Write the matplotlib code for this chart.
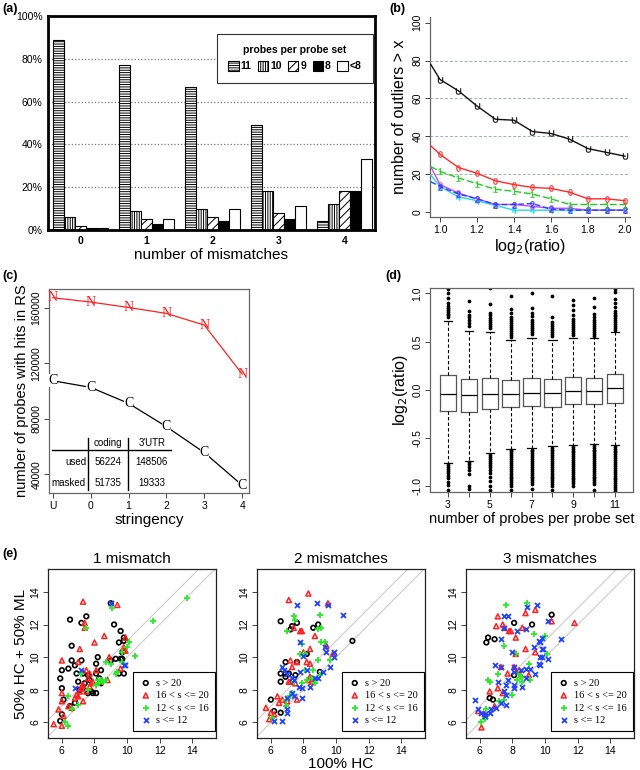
import numpy as np
import matplotlib.pyplot as plt
from matplotlib.patches import Patch

plt.rcParams['font.family'] = ['Liberation Sans', 'DejaVu Sans']
plt.rcParams['axes.unicode_minus'] = False
plt.rcParams['hatch.linewidth'] = 0.7

# ---- (a) share of probe sets by probes per set ----
mismatch_groups = ['0', '1', '2', '3', '4']
probe_classes = ['11', '10', '9', '8', '<8']
pct_11 = [89, 77, 67, 49, 4]
pct_10 = [6, 9, 10, 18, 12]
pct_9 = [2, 5, 6, 8, 18]
pct_8 = [1, 3, 4, 5, 18]
pct_lt8 = [1, 5, 10, 11, 33]

# ---- (b) outliers vs log2 ratio ----
ratio_x = [0.95, 1.0, 1.1, 1.2, 1.3, 1.4, 1.5, 1.6, 1.7, 1.8, 1.9, 2.0]
outl_U = [78, 70, 64, 56, 49, 48.5, 42.5, 41.5, 38.5, 33.5, 31.5, 29.5]
outl_0 = [35, 30.5, 23.5, 20.5, 16.5, 14.5, 13, 12.5, 10.5, 7, 7, 6]
outl_1 = [24, 21.5, 18, 15, 12, 11, 9.5, 7, 4, 4, 4, 4]
outl_2 = [16, 13.5, 9.5, 7, 4, 4, 4.5, 1.5, 1, 1, 1, 1]
outl_3 = [24, 14.5, 10, 7, 4, 4, 3, 2, 2, 1, 1, 1]
outl_4 = [19.5, 13.5, 8, 6, 3.5, 1, 1, 1, 1, 1, 1, 1]

# ---- (c) probes with hits ----
stringency = ['U', '0', '1', '2', '3', '4']
hits_N = [167200, 164100, 160200, 155900, 147500, 112200]
hits_C = [107400, 102600, 91100, 74300, 55600, 32100]
tab_cols = ['coding', "3'UTR"]
tab_rows = ['used', 'masked']
tab_used = [56224, 148506]
tab_masked = [51735, 19333]

# ---- (d) boxplot stats ----
box_labels = ['3', '4', '5', '6', '7', '8', '9', '10', '11']
box_med = [-0.04, -0.05, -0.04, -0.04, -0.03, -0.03, -0.01, -0.01, 0.02]
box_q1 = [-0.22, -0.235, -0.195, -0.18, -0.165, -0.175, -0.15, -0.15, -0.14]
box_q3 = [0.15, 0.11, 0.125, 0.1, 0.125, 0.11, 0.13, 0.125, 0.16]
box_lo = [-0.76, -0.74, -0.66, -0.61, -0.6, -0.585, -0.575, -0.565, -0.57]
box_hi = [0.71, 0.61, 0.6, 0.52, 0.54, 0.52, 0.54, 0.54, 0.6]
fl_3 = [0.75, 0.77, 0.79, 0.81, 0.83, 0.85, 0.87, 0.9, 0.95, 1.0, 1.04,
        -0.78, -0.8, -0.82, -0.84, -0.86, -0.89, -0.92, -0.96, -0.99, -1.04]
fl_4 = [0.66, 0.69, 0.72, 0.75, 0.78, 0.82, 0.92,
        -0.75, -0.77, -0.8, -0.83, -0.87, -1.0, -1.03]
fl_5 = [0.64, 0.66, 0.68, 0.7, 0.72, 0.74, 0.77, 0.8, 0.89, 1.05,
        -0.68, -0.7, -0.72, -0.74, -0.76, -0.78, -0.8, -0.83, -0.86, -0.9, -0.95, -1.0, -1.04]
fl_6 = [0.55, 0.57, 0.59, 0.61, 0.63, 0.65, 0.67, 0.69, 0.71, 0.73, 0.75, 0.8, 0.84, 0.97,
        -0.62, -0.64, -0.66, -0.68, -0.7, -0.72, -0.74, -0.76, -0.78, -0.8, -0.82, -0.84,
        -0.86, -0.88, -0.9, -0.92, -0.94, -0.96, -0.98, -1.0, -1.04]
fl_7 = [0.58, 0.6, 0.62, 0.64, 0.66, 0.68, 0.7, 0.72, 0.76, 0.8, 0.85, 1.0,
        -0.62, -0.64, -0.66, -0.68, -0.7, -0.72, -0.74, -0.76, -0.78, -0.8, -0.82, -0.84,
        -0.86, -0.88, -0.9, -0.92, -0.94, -0.96, -0.98, -1.03]
fl_8 = [0.56, 0.58, 0.6, 0.62, 0.64, 0.66, 0.68, 0.7, 0.75, 0.97,
        -0.6, -0.62, -0.64, -0.66, -0.68, -0.7, -0.72, -0.74, -0.76, -0.78, -0.8, -0.82,
        -0.84, -0.86, -0.88, -0.9, -0.92, -0.94, -0.96, -0.98, -1.0, -1.04]
fl_9 = [0.57, 0.59, 0.61, 0.63, 0.65, 0.67, 0.69, 0.71, 0.73, 0.78, 0.83, 0.88, 0.93,
        -0.59, -0.61, -0.63, -0.65, -0.67, -0.69, -0.71, -0.73, -0.75, -0.77, -0.79, -0.81,
        -0.83, -0.85, -0.87, -0.89, -0.91, -0.93, -0.95, -0.97, -1.0]
fl_10 = [0.56, 0.58, 0.6, 0.62, 0.64, 0.66, 0.68, 0.7, 0.72, 0.75, 0.79, 0.86, 0.95,
         -0.58, -0.6, -0.62, -0.64, -0.66, -0.68, -0.7, -0.72, -0.74, -0.76, -0.78, -0.8,
         -0.82, -0.84, -0.86, -0.88, -0.9, -0.92, -0.94, -0.96, -0.98, -1.04]
fl_11 = [0.62, 0.64, 0.66, 0.68, 0.7, 0.72, 0.74, 0.76, 0.78, 0.8, 0.82, 0.86, 0.9, 0.94, 1.01, 1.04,
         -0.59, -0.61, -0.63, -0.65, -0.67, -0.69, -0.71, -0.73, -0.75, -0.77, -0.79, -0.81,
         -0.83, -0.85, -0.87, -0.89, -0.91, -0.93, -0.95, -0.97, -0.99, -1.01, -1.03, -1.05]
box_fliers = [fl_3, fl_4, fl_5, fl_6, fl_7, fl_8, fl_9, fl_10, fl_11]

# ---- (e) scatter: (100% HC, 50% HC + 50% ML) ----
m1_gt20 = [(5.9, 8.7), (6.0, 9.2), (6.0, 8.1), (5.9, 6.1), (6.0, 6.5), (6.1, 7.4), (6.5, 12.3), (6.6, 10.7),
           (6.4, 9.3), (6.6, 9.8), (6.8, 9.5), (6.9, 9.0), (7.0, 8.5), (7.1, 8.0), (6.5, 7.0), (6.8, 7.2),
           (7.2, 12.1), (7.5, 12.5), (7.2, 9.8), (7.3, 9.0), (7.3, 8.1), (7.6, 8.9), (7.7, 8.6), (7.8, 7.9),
           (7.6, 7.8), (7.4, 8.4), (8.1, 9.0), (8.1, 9.6), (8.2, 10.0), (8.4, 9.2), (8.3, 8.7), (8.4, 8.4),
           (8.1, 7.8), (7.9, 7.8), (9.2, 12.0), (9.0, 13.3), (9.3, 9.9), (9.0, 9.8), (9.5, 9.0), (9.6, 9.9),
           (9.5, 10.9), (9.7, 9.9), (9.8, 9.0), (9.6, 11.6), (9.8, 11.2), (9.8, 11.0), (9.7, 10.3)]
m1_16_20 = [(7.3, 13.4), (9.4, 13.2), (7.4, 12.1), (7.4, 11.8), (8.6, 11.3), (7.1, 10.5), (8.0, 10.9), (6.0, 9.8),
            (7.0, 9.7), (7.5, 9.2), (7.6, 8.7), (7.7, 9.0), (8.1, 9.2), (8.8, 8.6), (8.9, 10.0), (9.6, 9.3),
            (9.8, 10.6), (9.8, 10.4), (9.9, 10.4), (9.9, 11.2), (6.0, 7.8), (6.0, 7.3), (5.8, 6.8), (6.0, 5.8),
            (5.5, 5.9), (6.1, 6.4), (6.4, 7.0), (6.8, 7.5), (7.0, 7.6), (7.1, 7.9), (7.2, 8.1), (7.3, 8.3),
            (7.3, 7.3), (7.5, 7.9), (7.7, 8.2), (7.8, 8.4), (7.9, 8.5), (6.6, 6.9), (6.9, 7.7), (7.2, 8.2),
            (8.3, 8.5)]
m1_12_16 = [(13.7, 13.6), (11.6, 12.2), (9.1, 13.0), (7.5, 11.8), (10.1, 10.9), (10.0, 10.6), (9.7, 10.3),
            (10.5, 10.1), (9.7, 9.7), (9.0, 9.6), (8.7, 9.7), (9.4, 9.1), (9.3, 9.0), (8.2, 8.6), (8.4, 8.6),
            (8.3, 8.4), (8.5, 8.5), (8.7, 8.6), (8.1, 8.3), (7.6, 8.0), (7.2, 9.0), (6.4, 7.6), (7.0, 7.1),
            (6.6, 6.8), (6.2, 6.0), (6.4, 5.8)]
m1_le12 = [(9.0, 13.3), (7.2, 9.2), (6.8, 8.1), (9.8, 9.5), (9.9, 9.5)]

m2_gt20 = [(6.6, 12.2), (7.6, 12.1), (7.3, 11.9), (7.2, 11.7), (8.6, 11.8), (8.9, 12.0), (11.0, 11.0), (6.9, 9.7),
           (7.6, 9.7), (6.6, 9.0), (6.9, 9.0), (7.1, 9.0), (6.9, 8.8), (7.5, 8.9), (6.6, 8.5), (8.2, 10.2),
           (9.0, 9.1), (6.0, 7.4), (6.2, 6.7), (6.6, 6.6)]
m2_16_20 = [(7.1, 13.5), (8.3, 13.9), (9.5, 13.3), (7.4, 11.8), (7.8, 11.6), (7.9, 11.6), (8.7, 11.3), (8.4, 10.5),
            (8.0, 10.3), (7.2, 9.8), (7.3, 9.4), (7.6, 9.7), (8.2, 9.7), (8.4, 9.6), (7.1, 8.5), (7.2, 8.5),
            (7.5, 8.4), (8.4, 8.8), (8.3, 8.6), (8.5, 8.7), (8.5, 8.5), (9.8, 10.2), (6.4, 7.6), (6.7, 7.4),
            (7.0, 7.3), (7.6, 7.4), (5.7, 6.9), (6.0, 6.6), (5.9, 6.2), (6.2, 6.5), (6.5, 7.2), (9.4, 10.7)]
m2_12_16 = [(7.4, 12.5), (7.5, 12.3), (7.0, 11.6), (9.0, 12.6), (8.9, 11.7), (9.1, 11.8), (7.9, 10.8), (9.1, 10.9),
            (9.3, 10.9), (7.8, 10.2), (8.1, 10.2), (8.9, 9.8), (9.6, 9.8), (8.1, 9.2), (8.6, 9.2), (7.4, 8.5),
            (7.9, 8.4), (8.2, 8.6), (8.5, 8.7), (8.7, 8.4), (9.0, 8.9), (7.3, 7.8), (7.2, 7.6), (6.9, 7.4),
            (6.9, 7.0), (6.1, 6.3)]
m2_le12 = [(7.6, 13.2), (8.8, 13.3), (9.5, 13.2), (10.4, 12.6), (7.8, 10.9), (8.0, 10.1), (9.4, 10.3), (9.3, 10.6),
           (9.9, 10.3), (9.9, 10.0), (9.6, 9.4), (6.7, 9.4), (6.8, 9.2), (7.0, 9.0), (7.3, 8.7), (7.4, 8.6),
           (7.8, 9.1), (8.2, 9.2), (8.4, 8.2), (8.7, 8.7), (8.9, 8.7), (9.2, 9.1), (7.9, 8.1), (7.7, 8.2),
           (7.3, 7.8), (7.4, 7.6), (7.9, 7.5), (7.0, 7.5), (7.0, 6.8), (7.0, 6.6), (6.2, 6.1), (6.7, 6.1)]

m3_gt20 = [(6.4, 10.9), (6.5, 11.2), (6.9, 11.1), (8.1, 12.1), (9.2, 12.0), (10.4, 12.6), (6.6, 7.5), (6.8, 7.4),
           (8.1, 8.9)]
m3_16_20 = [(7.1, 12.5), (8.8, 12.7), (9.4, 12.9), (7.0, 11.9), (7.4, 12.0), (7.5, 11.8), (7.8, 11.6), (7.9, 11.6),
            (8.2, 11.2), (8.6, 11.8), (10.4, 12.2), (11.8, 12.1), (8.8, 10.5), (9.4, 10.3), (8.2, 10.2), (7.3, 9.4),
            (7.7, 9.0), (8.1, 9.4), (8.4, 9.2), (8.5, 8.9), (9.0, 8.9), (7.1, 8.1), (6.6, 7.9), (7.4, 7.8),
            (5.9, 6.7), (6.1, 5.7), (6.3, 6.5), (6.9, 7.0)]
m3_12_16 = [(6.5, 8.6), (6.6, 8.5), (7.1, 9.0), (7.5, 10.7), (8.9, 13.3), (7.6, 13.2), (9.3, 11.4), (10.0, 11.3),
            (10.1, 10.2), (9.0, 9.6), (9.1, 8.6), (8.0, 7.7), (8.4, 9.0), (8.3, 8.6), (8.5, 8.8), (7.2, 7.3),
            (7.5, 7.4), (6.3, 6.2), (6.1, 6.0), (6.4, 6.8), (8.6, 8.5), (8.2, 10.2)]
m3_le12 = [(9.5, 13.2), (8.9, 13.1), (7.5, 12.5), (7.7, 12.5), (7.5, 11.8), (7.3, 11.1), (8.3, 11.6), (8.8, 11.7),
           (10.2, 12.2), (11.0, 11.1), (9.8, 11.2), (9.7, 10.9), (9.6, 11.0), (9.3, 10.6), (9.9, 10.5), (9.8, 10.5),
           (9.7, 10.0), (9.8, 10.0), (10.2, 9.9), (9.6, 9.6), (9.7, 9.5), (8.0, 10.3), (6.9, 9.5), (7.3, 9.4),
           (8.1, 9.4), (8.8, 9.3), (9.1, 9.3), (8.1, 9.1), (9.4, 9.0), (8.5, 9.2), (7.1, 8.5), (7.6, 8.3),
           (7.7, 8.6), (8.1, 8.3), (8.1, 8.1), (8.6, 8.2), (8.8, 8.7), (7.5, 7.9), (7.6, 7.7), (7.6, 7.1),
           (7.3, 7.2), (7.0, 6.9), (6.7, 6.8), (6.6, 6.6), (6.3, 6.5), (5.7, 7.4), (5.9, 6.8), (6.1, 6.6),
           (6.3, 6.4)]

LAB = 10.5

fig = plt.figure(figsize=(6.4, 7.7), dpi=100)


def px_axes(l, t, r, b):
    return fig.add_axes([l / 640, 1 - b / 770, (r - l) / 640, (b - t) / 770])


def r_yticks(ax, size):
    ax.tick_params(axis='both', labelsize=size, length=3.5, width=0.7, color='#444444', pad=2)
    plt.setp(ax.get_yticklabels(), rotation=90, va='center')


def gray_frame(ax, col='#666666', lw=0.9):
    for s in ax.spines.values():
        s.set_color(col)
        s.set_linewidth(lw)


# ===== (a) =====
axA = px_axes(48, 16, 375, 230)
series_a = [pct_11, pct_10, pct_9, pct_8, pct_lt8]
hatches = ['-------', '|||||||', '////', None, None]
faces = ['white', 'white', 'white', 'black', 'white']
for j, vals in enumerate(series_a):
    xs = [6 * i + j + 0.5 for i in range(len(vals))]
    axA.bar(xs, vals, width=1, color=faces[j], edgecolor='black', hatch=hatches[j], lw=0.8, zorder=2)
for g in [20, 40, 60, 80]:
    axA.axhline(g, color='#777777', ls=':', lw=0.9, zorder=1)
axA.set_xlim(-0.45, 29.27)
axA.set_ylim(0, 100)
axA.set_yticks([0, 20, 40, 60, 80, 100])
axA.set_yticklabels(['0%', '20%', '40%', '60%', '80%', '100%'])
axA.set_xticks([6 * i + 2.5 for i in range(5)])
axA.set_xticklabels(mismatch_groups, fontweight='bold')
axA.tick_params(length=0, labelsize=7.5, pad=4)
for s in axA.spines.values():
    s.set_linewidth(2)
axA.set_xlabel('number of mismatches', fontsize=LAB + 0.5, labelpad=2)
handles = [Patch(facecolor=faces[j], edgecolor='black', hatch=hatches[j], lw=0.8) for j in range(5)]
legA = axA.legend(handles, probe_classes, ncol=5, title='probes per probe set', loc='upper right',
                  bbox_to_anchor=(0.994, 0.916), fancybox=False, framealpha=1, edgecolor='#333333',
                  prop={'weight': 'bold', 'size': 7.5}, title_fontproperties={'weight': 'bold', 'size': 7.5},
                  handlelength=1.0, handleheight=1.1, handletextpad=0.2, columnspacing=0.6,
                  borderpad=1.1, borderaxespad=0)
legA.get_frame().set_linewidth(0.8)

# ===== (b) =====
axB = px_axes(430, 17, 630, 217)
b_series = [(outl_U, 'U', '#111111', '-'), (outl_0, '0', '#ff2a2a', '-'), (outl_1, '1', '#22cc22', (0, (5, 2))),
            (outl_2, '2', '#2244ff', (0, (4, 2))), (outl_3, '3', '#cc44ff', '-'), (outl_4, '4', '#22dddd', '-')]
for g in [20, 40, 60, 80]:
    axB.axhline(g, color='#9fb3b3', ls=(0, (3, 2)), lw=0.7, zorder=1)
for vals, mk, col, ls in b_series[::-1]:
    axB.plot(ratio_x, vals, color=col, ls=ls, lw=1.0, marker=r'$\mathregular{%s}$' % mk, markersize=4.5,
             markevery=list(range(1, len(ratio_x))), markeredgewidth=0.2, zorder=3)
axB.set_xlim(0.946, 2.027)
axB.set_ylim(-2.6, 103)
axB.set_xticks([1.0, 1.2, 1.4, 1.6, 1.8, 2.0])
axB.set_yticks([0, 20, 40, 60, 80, 100])
for s in ['top', 'right']:
    axB.spines[s].set_visible(False)
gray_frame(axB)
r_yticks(axB, 7.5)
axB.set_xlabel('log$_2$(ratio)', fontsize=LAB + 1, labelpad=2)
axB.set_ylabel('number of outliers > x', fontsize=LAB + 1, labelpad=4)

# ===== (c) =====
axC = px_axes(49, 289, 249, 493)
xc = np.arange(len(stringency))
axC.plot(xc, hits_N, color='#ff2020', lw=0.9)
axC.plot(xc, hits_C, color='black', lw=0.9)
for xi, v in zip(xc, hits_N):
    axC.text(xi, v, 'N', color='#ff2020', family='Liberation Serif', fontsize=10, ha='center', va='center')
for xi, v in zip(xc, hits_C):
    axC.text(xi, v, 'C', color='black', family='Liberation Serif', fontsize=10, ha='center', va='center',
             bbox=dict(boxstyle='square,pad=0', fc='white', ec='none'))
axC.set_xlim(-0.1, 5.18)
axC.set_ylim(26500, 173500)
axC.set_xticks(xc)
axC.set_xticklabels(stringency)
axC.set_yticks([40000, 80000, 120000, 160000])
gray_frame(axC)
r_yticks(axC, 7.5)
axC.set_xlabel('stringency', fontsize=LAB + 0.5, labelpad=2)
axC.set_ylabel('number of probes with hits in RS', fontsize=LAB, labelpad=2)
tr = axC.transAxes
axC.plot([0.015, 0.61], [0.211, 0.211], color='black', lw=1.0, transform=tr)
axC.plot([0.195, 0.195], [0.015, 0.27], color='black', lw=1.0, transform=tr)
axC.plot([0.395, 0.395], [0.015, 0.27], color='black', lw=1.0, transform=tr)
col_x = [0.295, 0.515]
for cx, name in zip(col_x, tab_cols):
    axC.text(cx, 0.245, name, transform=tr, ha='center', va='center', fontsize=7)
for ry, rname, rvals in zip([0.153, 0.05], tab_rows, [tab_used, tab_masked]):
    axC.text(0.185, ry, rname, transform=tr, ha='right', va='center', fontsize=7)
    for cx, v in zip(col_x, rvals):
        axC.text(cx, ry, str(v), transform=tr, ha='center', va='center', fontsize=7)

# ===== (d) =====
axD = px_axes(430, 288, 633, 492)
stats = []
for i in range(len(box_labels)):
    stats.append(dict(med=box_med[i], q1=box_q1[i], q3=box_q3[i], whislo=box_lo[i], whishi=box_hi[i],
                      fliers=box_fliers[i]))
axD.bxp(stats, positions=range(1, len(box_labels) + 1), widths=0.78, showfliers=True,
        boxprops=dict(color='#555555', lw=0.9),
        medianprops=dict(color='black', lw=0.9),
        whiskerprops=dict(color='black', lw=0.8, ls=(0, (3, 2))),
        capprops=dict(color='black', lw=0.9), capwidths=0.4,
        flierprops=dict(marker='o', markersize=1.7, markerfacecolor='black', markeredgecolor='black'))
axD.set_xlim(0.14, 9.86)
axD.set_ylim(-1.06, 1.055)
axD.set_xticks(range(1, len(box_labels) + 1))
axD.set_xticklabels([lab if k % 2 == 0 else '' for k, lab in enumerate(box_labels)])
axD.set_yticks([-1.0, -0.5, 0.0, 0.5, 1.0])
axD.set_yticklabels(['-1.0', '-0.5', '0.0', '0.5', '1.0'])
gray_frame(axD)
r_yticks(axD, 7.5)
axD.set_xlabel('number of probes per probe set', fontsize=LAB, labelpad=2)
axD.set_ylabel('log$_2$(ratio)', fontsize=LAB + 1, labelpad=2)

# ===== (e) =====
e_titles = ['1 mismatch', '2 mismatches', '3 mismatches']
e_data = [(m1_gt20, m1_16_20, m1_12_16, m1_le12),
          (m2_gt20, m2_16_20, m2_12_16, m2_le12),
          (m3_gt20, m3_16_20, m3_12_16, m3_le12)]
e_labels = ['s > 20', '16 < s <= 20', '12 < s <= 16', 's <= 12']
e_style = [dict(marker='o', facecolors='none', edgecolors='black', s=11, linewidths=1.2),
           dict(marker='^', facecolors='none', edgecolors='#ff2020', s=13, linewidths=1.1),
           dict(marker='+', c='#22ee22', s=24, linewidths=1.3),
           dict(marker='x', c='#2244ff', s=13, linewidths=1.3)]
e_lefts = [48, 257, 466]
for k in range(3):
    ax = px_axes(e_lefts[k], 569, e_lefts[k] + 168, 738)
    lim = np.array([5.0, 15.5])
    ax.plot(lim, lim, color='#cccccc', lw=0.8, zorder=1)
    ax.plot(lim, lim + 1, color='#cccccc', lw=0.8, zorder=1)
    for pts, lab, st in zip(e_data[k], e_labels, e_style):
        arr = np.array(pts)
        ax.scatter(arr[:, 0], arr[:, 1], label=lab, zorder=3, **st)
    ax.set_xlim(5.15, 15.45)
    ax.set_ylim(5.05, 15.4)
    ax.set_xticks([6, 8, 10, 12, 14])
    ax.set_yticks([6, 8, 10, 12, 14])
    gray_frame(ax, '#222222', 0.9)
    r_yticks(ax, 7.5)
    ax.set_title(e_titles[k], fontsize=11, pad=4)
    leg = ax.legend(loc='lower right', bbox_to_anchor=(0.995, 0.04), fancybox=False, framealpha=1,
                    edgecolor='black', prop={'family': 'Liberation Serif', 'size': 7.5},
                    handletextpad=0.4, labelspacing=0.3, borderpad=0.6, borderaxespad=0, handlelength=1.2)
    leg.get_frame().set_linewidth(0.8)
    if k == 0:
        ax.set_ylabel('50% HC + 50% ML', fontsize=LAB + 0.5, labelpad=2)
    if k == 1:
        ax.set_xlabel('100% HC', fontsize=LAB + 0.5, labelpad=1)

# panel letters
for txt, x, y in [('(a)', 2, 9), ('(b)', 389, 9), ('(c)', 2, 276), ('(d)', 385, 276), ('(e)', 2, 554)]:
    fig.text(x / 640, 1 - y / 770, txt, fontsize=9, fontweight='bold', va='center', ha='left')

fig.savefig('out.png', dpi=100)
